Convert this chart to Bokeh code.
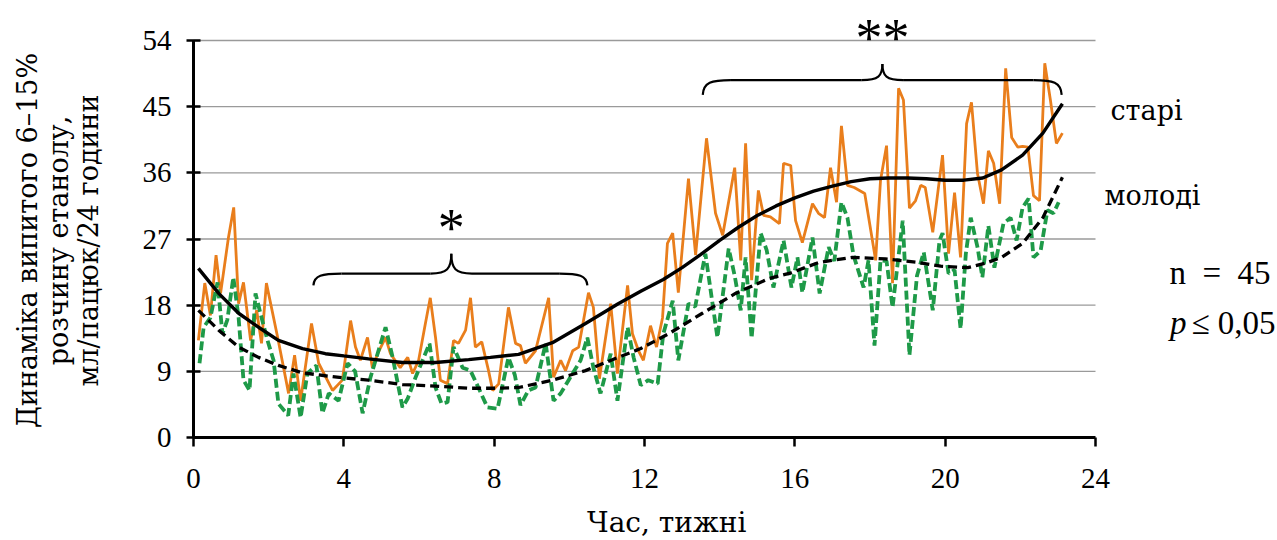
import math
from bokeh.plotting import figure
from bokeh.models import Label, FixedTicker, Range1d, LinearAxis
from bokeh.embed import file_html
from bokeh.resources import INLINE

# --- daily intake, ml / rat / 24 h ---------------------------------------
old_x = [0.13, 0.30, 0.45, 0.60, 0.72, 0.93, 1.07, 1.20, 1.33, 1.52, 1.68, 1.81,
         1.94, 2.24, 2.53, 2.69, 2.85, 3.14, 3.33, 3.70, 3.96, 4.18, 4.31, 4.44,
         4.63, 4.76, 4.90, 5.11, 5.24, 5.50, 5.70, 5.83, 5.99, 6.17, 6.30, 6.44,
         6.57, 6.76, 6.92, 7.05, 7.24, 7.37, 7.50, 7.67, 7.85, 7.96, 8.12, 8.38,
         8.57, 8.70, 8.83, 9.10, 9.45, 9.58, 9.77, 9.90, 10.09, 10.25, 10.51, 10.64,
         10.80, 11.10, 11.28, 11.55, 11.68, 11.84, 11.97, 12.16, 12.32, 12.48, 12.61, 12.75,
         12.90, 13.17, 13.36, 13.65, 13.89, 14.08, 14.40, 14.56, 14.69, 14.85, 15.03, 15.17,
         15.35, 15.59, 15.70, 15.89, 16.02, 16.20, 16.47, 16.63, 16.79, 16.95, 17.11, 17.24,
         17.40, 17.58, 17.86, 18.15, 18.28, 18.44, 18.60, 18.76, 18.89, 19.05, 19.21, 19.35,
         19.47, 19.67, 19.93, 20.09, 20.25, 20.41, 20.57, 20.70, 20.86, 21.02, 21.15, 21.29,
         21.45, 21.61, 21.77, 21.93, 22.06, 22.20, 22.35, 22.51, 22.65, 22.80, 22.96, 23.12]
old_y = [13.2, 21.0, 16.6, 24.8, 19.6, 27.2, 31.3, 18.2, 21.1, 13.2, 17.3, 12.8,
         21.0, 13.6, 6.0, 11.2, 5.0, 15.5, 10.1, 6.4, 7.8, 15.9, 12.3, 10.5,
         13.6, 9.5, 11.4, 13.6, 11.4, 9.5, 10.9, 8.7, 10.5, 15.5, 19.0, 13.6,
         7.8, 7.3, 13.2, 12.8, 14.6, 19.0, 12.3, 13.0, 9.1, 6.4, 7.3, 17.7,
         12.8, 12.5, 10.1, 11.8, 19.0, 8.2, 10.5, 9.1, 11.8, 12.3, 19.7, 17.7,
         8.0, 18.2, 8.7, 20.7, 14.1, 11.8, 10.5, 15.2, 12.3, 16.3, 26.4, 27.8,
         19.7, 35.2, 24.8, 40.7, 30.5, 27.5, 36.7, 24.1, 40.0, 21.4, 33.6, 30.2,
         30.0, 29.1, 37.3, 37.0, 29.5, 26.5, 31.8, 30.5, 29.9, 36.7, 32.0, 42.4,
         34.3, 34.0, 33.2, 24.1, 35.0, 39.7, 21.0, 47.5, 45.9, 31.2, 32.2, 34.3,
         34.0, 27.9, 38.4, 25.0, 33.3, 24.5, 42.7, 45.6, 35.9, 31.8, 39.0, 37.3,
         31.8, 50.2, 40.8, 39.5, 39.6, 39.5, 32.9, 32.2, 50.9, 45.9, 40.0, 41.4]

young_x = [0.16, 0.27, 0.45, 0.64, 0.77, 0.90, 1.06, 1.20, 1.33, 1.49, 1.65, 1.78,
           1.97, 2.13, 2.26, 2.52, 2.66, 2.85, 3.03, 3.27, 3.43, 3.60, 3.86, 4.10,
           4.30, 4.50, 4.71, 5.11, 5.30, 5.56, 5.70, 5.91, 6.28, 6.44, 6.60, 6.76,
           6.92, 7.16, 7.37, 7.58, 7.82, 8.09, 8.38, 8.55, 8.70, 8.91, 9.10, 9.37,
           9.58, 9.77, 9.98, 10.30, 10.48, 10.64, 10.83, 11.10, 11.28, 11.55, 11.71, 11.90,
           12.10, 12.35, 12.50, 12.75, 12.90, 13.17, 13.35, 13.62, 13.94, 14.24, 14.40, 14.56,
           14.69, 14.85, 15.09, 15.25, 15.43, 15.70, 15.91, 16.07, 16.20, 16.47, 16.66, 16.90,
           17.05, 17.24, 17.40, 17.56, 17.83, 17.96, 18.12, 18.28, 18.44, 18.60, 18.87, 19.05,
           19.25, 19.43, 19.67, 19.85, 19.93, 20.09, 20.25, 20.41, 20.55, 20.68, 20.86, 20.99,
           21.15, 21.31, 21.55, 21.74, 21.90, 22.06, 22.22, 22.35, 22.54, 22.72, 22.88, 23.02]
young_y = [10.1, 15.0, 16.3, 21.1, 14.1, 16.0, 21.8, 16.3, 7.8, 6.4, 19.6, 16.9,
           13.2, 10.5, 4.6, 3.0, 8.7, 2.7, 8.7, 9.8, 3.3, 6.0, 5.0, 10.1,
           9.0, 3.3, 8.2, 15.0, 10.9, 4.1, 5.3, 8.2, 12.8, 6.8, 4.6, 4.8,
           12.3, 9.5, 9.1, 6.8, 4.1, 3.9, 10.9, 8.5, 4.4, 6.4, 6.8, 12.8,
           5.0, 6.0, 7.8, 10.5, 13.6, 9.5, 6.0, 11.4, 5.0, 15.0, 10.9, 7.1,
           7.8, 7.3, 14.1, 18.6, 10.5, 18.2, 17.8, 25.0, 13.6, 25.7, 22.0, 17.3,
           24.5, 13.5, 27.8, 25.5, 20.4, 26.8, 20.4, 24.5, 19.7, 27.2, 19.6, 25.9,
           24.0, 32.0, 29.9, 24.8, 20.4, 24.1, 12.5, 24.1, 24.0, 17.7, 29.5, 11.2,
           22.0, 25.2, 17.3, 26.8, 27.8, 22.3, 22.8, 14.8, 25.0, 29.9, 25.9, 21.8,
           28.8, 23.1, 29.1, 29.9, 26.8, 31.3, 32.5, 24.5, 25.4, 30.9, 30.5, 32.0]

# --- polynomial trend lines ------------------------------------------------
old_trend_x = [0.13, 0.67, 1.2, 1.73, 2.26, 2.9, 3.51, 4.0, 4.66, 5.56, 6.44, 7.32,
               7.9, 8.65, 9.55, 10.43, 11.3, 11.9, 12.5, 13.0, 13.5, 14.0, 14.5, 15.0,
               15.5, 16.0, 16.5, 17.0, 17.5, 18.0, 18.5, 19.0, 19.5, 20.0, 20.5, 21.0,
               21.5, 22.06, 22.6, 23.12]
old_trend_y = [23.0, 19.6, 16.9, 15.0, 13.2, 12.1, 11.4, 11.1, 10.7, 10.2, 10.2, 10.6,
               10.9, 11.3, 12.9, 15.5, 18.2, 19.9, 21.5, 23.1, 24.9, 26.8, 28.6, 30.2,
               31.5, 32.6, 33.5, 34.2, 34.8, 35.2, 35.3, 35.3, 35.2, 35.0, 35.0, 35.3,
               36.4, 38.4, 41.4, 45.4]

young_trend_x = [0.13, 0.67, 1.2, 1.73, 2.26, 2.9, 3.51, 4.0, 4.66, 5.56, 6.44, 7.32,
                 8.0, 8.65, 9.55, 10.43, 11.3, 11.9, 12.64, 13.54, 14.42, 15.3, 15.9, 16.63,
                 17.53, 18.41, 19.3, 19.88, 20.6, 21.07, 21.5, 22.06, 22.6, 23.12]
young_trend_y = [17.3, 14.6, 12.3, 10.9, 9.8, 8.8, 8.4, 8.1, 7.8, 7.2, 7.0, 6.7,
                 6.7, 6.8, 7.8, 9.1, 10.9, 12.1, 14.1, 16.9, 19.6, 21.6, 22.4, 23.8,
                 24.5, 24.3, 23.8, 23.3, 23.1, 23.7, 24.5, 26.4, 29.9, 35.4]

x_ticks = [0, 4, 8, 12, 16, 20, 24]
y_ticks = [0, 9, 18, 27, 36, 45, 54]

# significance braces: (start week, end week, tip week, end level, flat level, tip level)
braces = [
    (3.19, 10.48, 6.86, 20.7, 22.3, 25.0),
    (13.55, 23.10, 18.33, 46.6, 48.6, 50.8),
]
brace_marks = ["*", "**"]

FONT = "Liberation Serif"
CYR_FONT = "DejaVu Serif"
ORANGE = "#E97E1C"
GREEN = "#1E9A48"

# plotting area: weeks 0..24 span 902 px, 0..54 ml span 397 px; the frame covers
# the whole canvas so that the titles and notes around the axes are drawn in it
PX_X = 902 / 24
PX_Y = 397 / 54
x_range = Range1d(-193 / PX_X, (1277 - 193) / PX_X)
y_range = Range1d(-(540 - 437) / PX_Y, 437 / PX_Y)

p = figure(width=1277, height=540, output_backend="svg", toolbar_location=None,
           x_range=x_range, y_range=y_range, x_axis_type=None, y_axis_type=None,
           min_border=0, min_border_left=0, min_border_right=0,
           min_border_top=0, min_border_bottom=0)
p.outline_line_color = None
p.background_fill_color = "white"
p.border_fill_color = "white"
p.grid.visible = False

xaxis = LinearAxis(fixed_location=0, bounds=(0, 24), ticker=FixedTicker(ticks=x_ticks))
yaxis = LinearAxis(fixed_location=0, bounds=(0, 54), ticker=FixedTicker(ticks=y_ticks))
for ax in (xaxis, yaxis):
    ax.axis_line_color = "black"
    ax.axis_line_width = 3
    ax.major_tick_line_color = "black"
    ax.major_tick_line_width = 2.5
    ax.minor_tick_line_color = None
    ax.major_label_text_font = FONT
    ax.major_label_text_font_size = "29px"
    ax.major_label_text_color = "black"
xaxis.major_tick_out = 9
xaxis.major_tick_in = 0
xaxis.major_label_standoff = 22
yaxis.major_tick_out = 7
yaxis.major_tick_in = 7
yaxis.major_label_standoff = 15

# horizontal grid lines across the weeks
p.segment(x0=[x_ticks[0]] * 6, y0=y_ticks[1:], x1=[x_ticks[-1]] * 6, y1=y_ticks[1:],
          line_color="#9a9a9a", line_width=1.3)

p.add_layout(xaxis, "below")
p.add_layout(yaxis, "left")

# series
p.line(old_x, old_y, line_color=ORANGE, line_width=2.8)
p.line(young_x, young_y, line_color=GREEN, line_width=3.8, line_dash="9 4")
p.line(old_trend_x, old_trend_y, line_color="black", line_width=3.4)
p.line(young_trend_x, young_trend_y, line_color="black", line_width=3.3, line_dash="9 5")


def brace_curves(x0, x1, xm, ye, yf, yt):
    d = 0.75
    e = 0.55
    segs = [
        # left end curling up to the flat part
        (x0, ye, x0 + d, yf, x0 + 0.02, ye + 0.85 * (yf - ye), x0 + 0.3 * d, yf),
        # left half rising to the cusp
        (xm - e, yf, xm, yt, xm - 0.2 * e, yf, xm, yf + 0.25 * (yt - yf)),
        # right half leaving the cusp
        (xm, yt, xm + e, yf, xm, yf + 0.25 * (yt - yf), xm + 0.2 * e, yf),
        # right end curling down
        (x1 - d, yf, x1, ye, x1 - 0.3 * d, yf, x1 - 0.02, ye + 0.85 * (yf - ye)),
    ]
    flats = [(x0 + d, xm - e), (xm + e, x1 - d)]
    return segs, flats


for (x0, x1, xm, ye, yf, yt), mark in zip(braces, brace_marks):
    segs, flats = brace_curves(x0, x1, xm, ye, yf, yt)
    cols = list(zip(*segs))
    p.bezier(x0=list(cols[0]), y0=list(cols[1]), x1=list(cols[2]), y1=list(cols[3]),
             cx0=list(cols[4]), cy0=list(cols[5]), cx1=list(cols[6]), cy1=list(cols[7]),
             line_color="black", line_width=2.2)
    p.multi_line([list(f) for f in flats], [[yf, yf] for _ in flats],
                 line_color="black", line_width=2.2)
    p.add_layout(Label(x=xm, y=yt - 0.6, text=mark, text_font=FONT,
                       text_font_size="54px", text_align="center",
                       text_baseline="bottom", text_color="black"))


def add_text(x, y, text, size="32px", align="left", angle=0.0, style="normal", font=FONT):
    p.add_layout(Label(x=x, y=y, text=text, text_font=font, text_font_size=size,
                       text_align=align, text_baseline="middle", angle=angle,
                       text_font_style=style, text_color="black"))


def px_x(px):
    return (px - 193) / PX_X


# axis titles
add_text(12.59, -11.6, "Час, тижні", size="28px", align="center", font=CYR_FONT)
add_text(-4.42, 26.8, "Динаміка випитого 6–15%", size="27px", align="center",
         angle=math.pi / 2, font=CYR_FONT)
add_text(-3.60, 26.8, "розчину етанолу,", size="27px", align="center",
         angle=math.pi / 2, font=CYR_FONT)
add_text(-2.79, 26.8, "мл/пацюк/24 години", size="27px", align="center",
         angle=math.pi / 2, font=CYR_FONT)

# series names and sample notes
add_text(px_x(1110), 44.5, "старі", size="27px", font=CYR_FONT)
add_text(px_x(1104), 32.9, "молоді", size="27px", font=CYR_FONT)
add_text(px_x(1270), 22.4, "n\u2002=\u200245", size="33px", align="right")
add_text(px_x(1275), 15.6, "≤ 0,05", size="33px", align="right")
add_text(px_x(1186), 15.6, "p", size="33px", align="right", style="italic")

open("out.html", "w").write(file_html(p, INLINE))
